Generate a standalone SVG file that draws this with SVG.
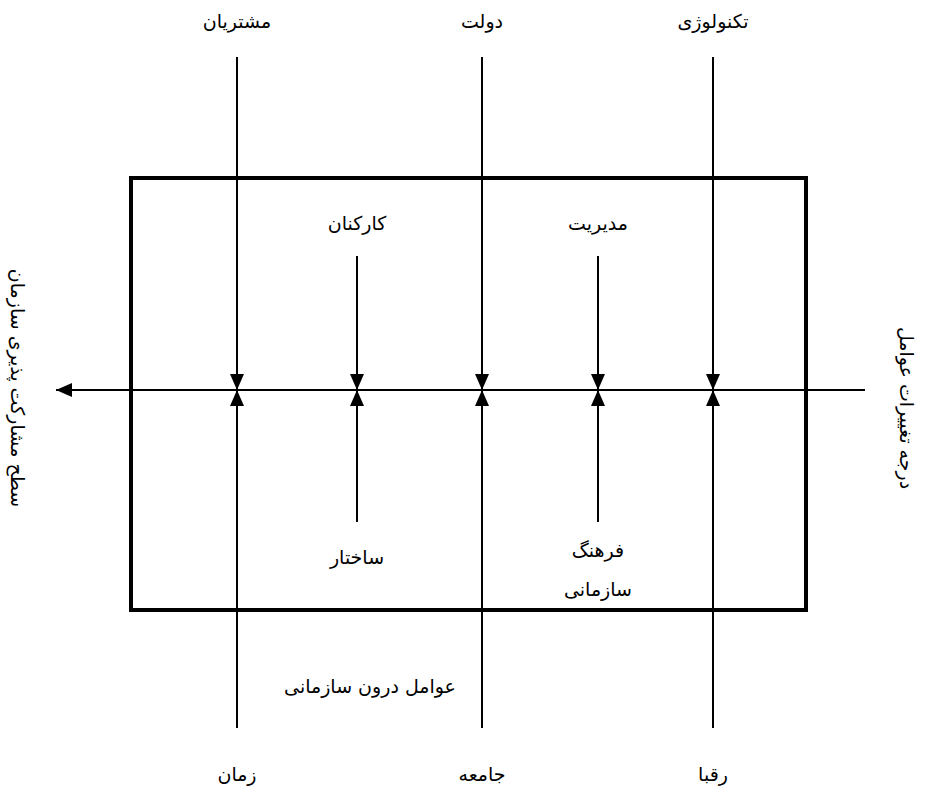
<svg xmlns="http://www.w3.org/2000/svg" width="925" height="786" viewBox="0 0 925 786">
<style>
text{font-family:"DejaVu Sans","Noto Sans",sans-serif;font-size:19px;fill:#000;text-anchor:middle;direction:rtl}
.ln{stroke:#000;stroke-width:2;fill:none}
</style>
<defs>
<marker id="ah" viewBox="0 0 16 14" refX="16" refY="7" markerWidth="16" markerHeight="14" markerUnits="userSpaceOnUse" orient="auto">
<path d="M0,0 L16,7 L0,14 Z" fill="#000"/>
</marker>
</defs>
<rect x="131" y="178" width="675" height="432" fill="none" stroke="#000" stroke-width="4"/>
<g id="connectors">
<line class="ln" x1="865" y1="390" x2="56" y2="390" marker-end="url(#ah)"/>
<line class="ln" x1="237" y1="57" x2="237" y2="390" marker-end="url(#ah)"/>
<line class="ln" x1="482" y1="57" x2="482" y2="390" marker-end="url(#ah)"/>
<line class="ln" x1="713" y1="57" x2="713" y2="390" marker-end="url(#ah)"/>
<line class="ln" x1="237" y1="728" x2="237" y2="390" marker-end="url(#ah)"/>
<line class="ln" x1="482" y1="728" x2="482" y2="390" marker-end="url(#ah)"/>
<line class="ln" x1="713" y1="728" x2="713" y2="390" marker-end="url(#ah)"/>
<line class="ln" x1="357" y1="256" x2="357" y2="390" marker-end="url(#ah)"/>
<line class="ln" x1="598" y1="256" x2="598" y2="390" marker-end="url(#ah)"/>
<line class="ln" x1="357" y1="522" x2="357" y2="390" marker-end="url(#ah)"/>
<line class="ln" x1="598" y1="522" x2="598" y2="390" marker-end="url(#ah)"/>
</g>
<g id="n-customers"><text x="237" y="28">مشتریان</text></g>
<g id="n-government"><text x="482" y="28">دولت</text></g>
<g id="n-technology"><text x="713" y="28">تکنولوژی</text></g>
<g id="n-time"><text x="237" y="781">زمان</text></g>
<g id="n-society"><text x="482" y="781">جامعه</text></g>
<g id="n-competitors"><text x="713" y="781">رقبا</text></g>
<g id="n-staff"><text x="357" y="230">کارکنان</text></g>
<g id="n-management"><text x="598" y="230">مدیریت</text></g>
<g id="n-structure"><text x="357" y="564">ساختار</text></g>
<g id="n-culture"><text x="598" y="557">فرهنگ</text><text x="598" y="596">سازمانی</text></g>
<g id="n-internal"><text x="370" y="693">عوامل درون سازمانی</text></g>
<g id="n-participation"><text transform="translate(11,388) rotate(90)">سطح مشارکت پذیری سازمان</text></g>
<g id="n-degree"><text transform="translate(900,408) rotate(90)">درجه تغییرات عوامل</text></g>
</svg>
